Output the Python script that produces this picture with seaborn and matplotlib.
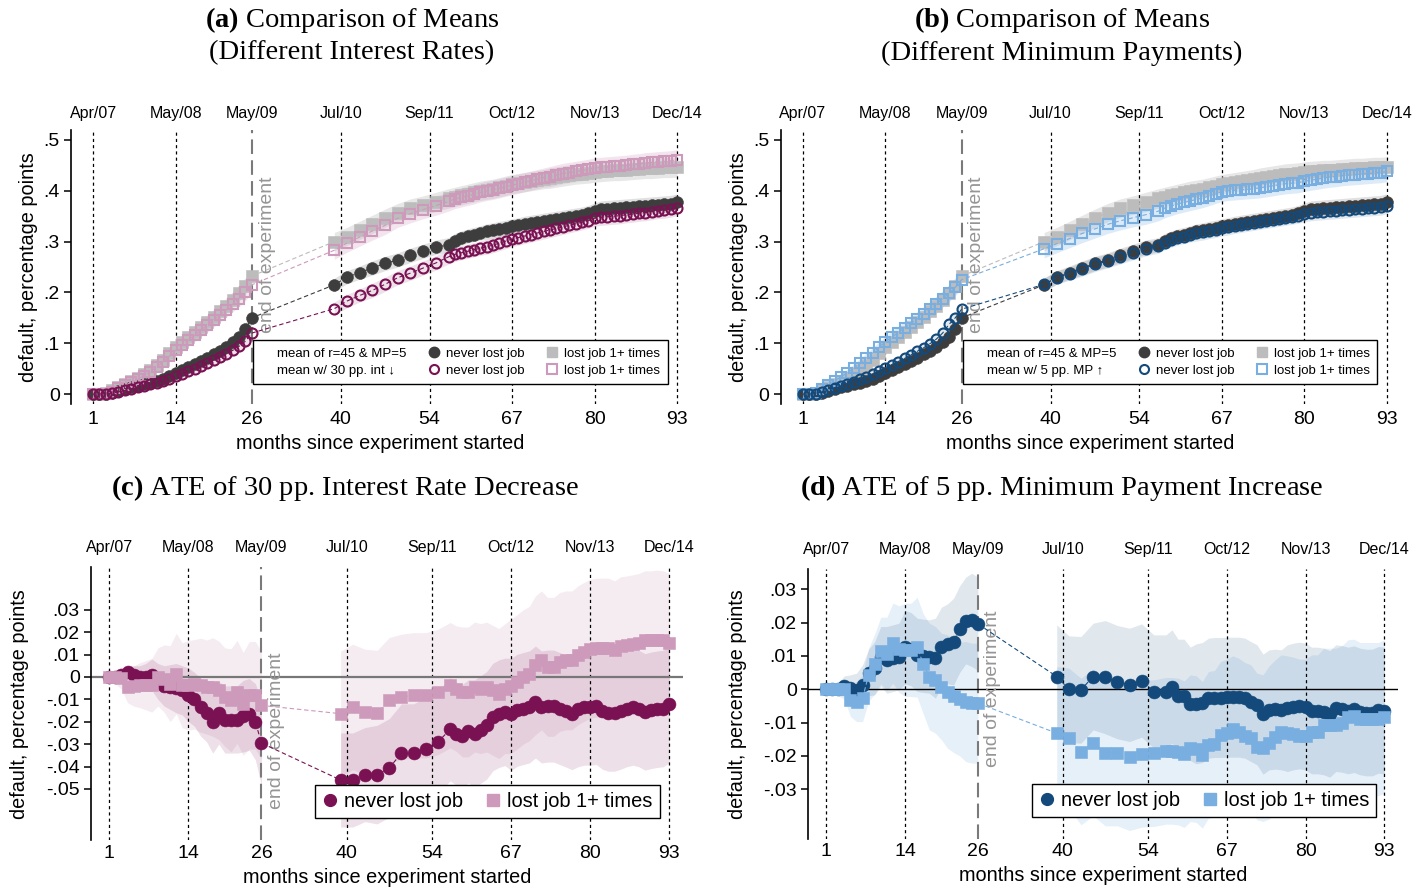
import seaborn as sns
import matplotlib.pyplot as plt
from matplotlib.lines import Line2D

sns.set_theme(style="white")
plt.rcParams['font.family'] = ['Liberation Sans', 'DejaVu Sans']
plt.rcParams['mathtext.fontset'] = 'custom'
plt.rcParams['mathtext.rm'] = 'Liberation Serif'
plt.rcParams['mathtext.bf'] = 'Liberation Serif:bold'

# ---------------- data ----------------
months = [1, 2, 3, 4, 5, 6, 7, 8, 9, 10, 11, 12, 13, 14, 15, 16, 17, 18, 19, 20, 21, 22, 23, 24, 25, 26,
          39, 41, 43, 45, 47, 49, 51, 53, 55,
          57, 58, 59, 60, 61, 62, 63, 64, 65, 66, 67, 68, 69, 70, 71, 72, 73, 74, 75, 76, 77,
          78, 79, 80, 81, 82, 83, 84, 85, 86, 87, 88, 89, 90, 91, 92, 93]
n_exp = 26  # points during the experiment, the rest come after the gap

tick_months = [1, 14, 26, 40, 54, 67, 80, 93]
date_labels = ['Apr/07', 'May/08', 'May/09', 'Jul/10', 'Sep/11', 'Oct/12', 'Nov/13', 'Dec/14']

# means, panels (a) and (b)
base_never = [.000, .000, .001, .003, .006, .009, .013, .016, .019, .022, .026, .030, .035, .041, .047, .053,
              .059, .065, .071, .078, .085, .093, .102, .112, .128, .150,
              .215, .230, .239, .248, .257, .264, .273, .281, .289,
              .294, .302, .307, .311, .314, .317, .320, .322, .325, .327, .330, .332, .335, .337, .339, .341,
              .343, .345, .347, .349, .351, .353, .356, .360, .364, .365, .366, .367, .368, .369, .370, .371,
              .372, .373, .374, .375, .378]
base_lost = [.000, .000, .002, .008, .014, .020, .026, .032, .040, .048, .058, .068, .080, .092, .102, .112,
             .122, .132, .142, .152, .163, .174, .186, .199, .213, .232,
             .300, .310, .322, .334, .346, .357, .366, .372, .378,
             .385, .388, .391, .394, .397, .400, .402, .404, .407, .410, .413, .415, .417, .419, .421, .423,
             .425, .427, .429, .431, .433, .434, .435, .437, .438, .439, .440, .440, .441, .442, .443, .444,
             .444, .445, .446, .446, .447]
int_never = [.000, .000, .001, .002, .004, .007, .010, .013, .016, .019, .022, .026, .030, .035, .040, .045,
             .050, .055, .061, .067, .073, .079, .086, .094, .104, .120,
             .168, .183, .194, .204, .216, .229, .238, .248, .258,
             .270, .275, .278, .281, .284, .287, .290, .293, .297, .301, .305, .308, .311, .314, .317, .320,
             .323, .326, .329, .332, .335, .338, .341, .346, .348, .349, .350, .351, .353, .354, .356, .357,
             .359, .361, .362, .364, .367]
int_lost = [.000, .000, .001, .005, .011, .017, .023, .029, .036, .044, .053, .063, .074, .086, .096, .106,
            .116, .126, .136, .146, .156, .166, .177, .188, .200, .215,
            .283, .297, .309, .321, .332, .346, .355, .363, .371,
            .379, .384, .387, .390, .393, .397, .400, .402, .405, .408, .411, .414, .417, .420, .423, .426,
            .428, .431, .434, .436, .438, .440, .442, .445, .446, .447, .448, .449, .450, .452, .453, .455,
            .456, .457, .458, .459, .461]
mp_never = [.000, .000, .001, .004, .008, .012, .016, .020, .024, .029, .034, .039, .046, .052, .058, .064,
            .070, .077, .084, .091, .099, .108, .120, .137, .150, .167,
            .216, .229, .237, .246, .255, .262, .270, .278, .286,
            .291, .298, .303, .307, .310, .313, .316, .318, .321, .323, .326, .328, .331, .333, .335, .337,
            .339, .341, .343, .345, .347, .349, .351, .355, .357, .358, .359, .360, .361, .362, .363, .364,
            .365, .366, .367, .368, .371]
mp_lost = [.000, .000, .003, .010, .018, .026, .034, .042, .051, .061, .071, .081, .092, .103, .112, .121,
           .130, .139, .148, .157, .167, .177, .188, .198, .210, .225,
           .286, .296, .306, .316, .325, .334, .341, .347, .353,
           .360, .366, .370, .374, .377, .380, .383, .386, .390, .394, .398, .400, .401, .402, .403, .404,
           .406, .408, .410, .412, .414, .415, .416, .419, .421, .423, .425, .427, .428, .430, .431, .432,
           .433, .434, .435, .436, .438]
# half widths of the confidence bands in (a) and (b)
never_hw = [.000, .000, .001, .002, .003, .003, .004, .004, .005, .005, .006, .006, .007, .007, .008, .008,
            .009, .009, .010, .010, .010, .011, .011, .012, .012, .013,
            .013, .013, .013, .014, .014, .014, .014, .014, .014,
            .014, .014, .014, .014, .014, .014, .015, .015, .015, .015, .015, .015, .015, .015, .015, .015,
            .015, .015, .015, .015, .015, .015, .015, .016, .016, .016, .016, .016, .016, .016, .016, .016,
            .016, .016, .016, .016, .016]
lost_hw = [.000, .000, .002, .003, .004, .005, .006, .007, .008, .009, .010, .010, .011, .011, .012, .012,
           .013, .013, .014, .014, .014, .015, .015, .016, .016, .017,
           .018, .018, .018, .018, .018, .018, .018, .018, .019,
           .019, .019, .019, .019, .019, .019, .019, .019, .019, .019, .019, .019, .019, .019, .019, .019,
           .020, .020, .020, .020, .020, .020, .020, .020, .020, .020, .020, .020, .020, .020, .020, .020,
           .020, .020, .020, .020, .020]

# treatment effects, panel (c)
ate_int_never = [.000, .000, .001, .002, .001, .000, .000, .001, -.002, -.004, -.0045, -.005, -.006, -.008,
                 -.010, -.0134, -.016, -.020, -.016, -.019, -.019, -.019, -.0175, -.0167, -.020, -.0295,
                 -.046, -.046, -.0436, -.0436, -.0406, -.034, -.034, -.032, -.029,
                 -.0234, -.0253, -.0263, -.0243, -.0253, -.0235, -.0216, -.0179, -.0164, -.0156, -.0167,
                 -.0149, -.0141, -.0134, -.0112, -.0134, -.013, -.013, -.0141, -.0152, -.0164, -.0141,
                 -.0134, -.0134, -.0131, -.0152, -.0161, -.0161, -.0152, -.0141, -.0134, -.0141, -.0156,
                 -.0149, -.0144, -.0141, -.0122]
ate_int_lost = [.000, .000, -.0005, -.0045, -.004, -.0037, -.0037, -.0037, .000, -.0007, -.003, .0015,
                -.0037, -.0037, -.0033, -.0037, -.0045, -.0045, -.006, -.009, -.0104, -.0067, -.012,
                -.0082, -.0082, -.0127,
                -.0164, -.0134, -.0156, -.0161, -.0104, -.0089, -.0082, -.0082, -.0067,
                -.0037, -.0052, -.0067, -.0067, -.0045, -.0052, -.0045, -.006, -.0074, -.0052, -.0042,
                -.0022, .000, .0015, .0052, .0074, .0045, .0045, .0067, .0074, .0074, .0097, .0112, .0126,
                .0131, .0131, .0131, .0119, .0137, .0141, .0146, .0152, .0164, .0164, .0167, .0164, .0152]
ate_int_never_hw = [.000, .001, .002, .003, .004, .005, .006, .007, .008, .009, .010, .011, .011, .012,
                    .012, .013, .013, .014, .014, .015, .015, .015, .016, .016, .017, .019,
                    .021, .021, .021, .022, .022, .022, .022, .023, .023,
                    .023, .023, .023, .023, .024, .024, .024, .024, .024, .024, .025, .025, .025, .025,
                    .025, .025, .025, .025, .025, .025, .025, .026, .026, .026, .026, .026, .026, .026,
                    .026, .026, .026, .026, .026, .026, .026, .026, .026]
ate_int_lost_hw = [.000, .003, .005, .007, .009, .010, .011, .012, .013, .015, .017, .018, .019, .020,
                   .020, .021, .021, .022, .022, .022, .023, .023, .023, .024, .024, .024,
                   .028, .028, .028, .028, .028, .028, .028, .028, .028,
                   .028, .028, .029, .029, .029, .029, .029, .029, .029, .029, .030, .030, .030, .030,
                   .031, .031, .031, .031, .031, .031, .031, .031, .031, .031, .031, .031, .031, .031,
                   .031, .031, .031, .031, .031, .031, .031, .031, .031]

# treatment effects, panel (d)
ate_mp_never = [.000, .000, .000, .001, .0003, -.0002, .0013, .005, .0063, .0098, .0088, .0093, .0098,
                .0126, .012, .0103, .010, .0098, .0093, .0126, .0136, .0143, .018, .0206, .0208, .0196,
                .0038, .000, -.0002, .0038, .0036, .0021, .0013, .0026, -.0007,
                -.0007, .0008, -.002, -.002, -.0044, -.0044, -.004, -.0027, -.0025, -.0025, -.0024,
                -.0024, -.0024, -.0027, -.0037, -.0047, -.0075, -.0062, -.006, -.0062, -.0057, -.0052,
                -.0049, -.0052, -.0064, -.0064, -.0067, -.0074, -.0057, -.0059, -.0064, -.006, -.0067,
                -.007, -.007, -.0062, -.0064]
ate_mp_lost = [.000, .000, .000, .000, -.0032, -.0037, -.0027, .0043, .0076, .0116, .0106, .0138, .012,
               .0118, .0118, .0126, .0076, .0038, .0028, .0008, -.0007, -.002, -.003, -.0037, -.0042, -.0042,
               -.0132, -.0147, -.0187, -.016, -.019, -.019, -.0204, -.0194, -.0192,
               -.0185, -.0185, -.0187, -.0195, -.0177, -.018, -.0197, -.0167, -.0164, -.0137, -.013,
               -.012, -.0127, -.014, -.0147, -.0172, -.0177, -.016, -.0142, -.0127, -.013, -.0134, -.014,
               -.014, -.0127, -.0127, -.0107, -.0107, -.0107, -.01, -.0082, -.008, -.009, -.009, -.009,
               -.009, -.0082]
ate_mp_never_hw = [.000, .001, .002, .003, .004, .005, .006, .007, .008, .009, .010, .010, .010, .011,
                   .011, .011, .011, .011, .012, .012, .012, .013, .013, .013, .014, .014,
                   .0155, .016, .016, .016, .017, .017, .017, .017, .017,
                   .017, .017, .017, .017, .017, .018, .018, .018, .018, .018, .018, .018, .018, .018,
                   .018, .018, .018, .018, .018, .018, .019, .019, .019, .019, .019, .019, .019, .019,
                   .019, .019, .019, .019, .019, .019, .019, .019, .019]
ate_mp_lost_hw = [.000, .001, .002, .003, .005, .006, .007, .008, .009, .010, .011, .012, .013, .014,
                  .014, .015, .015, .016, .016, .016, .017, .017, .017, .018, .018, .018,
                  .020, .021, .022, .022, .022, .022, .022, .022, .022,
                  .022, .022, .022, .022, .022, .022, .022, .022, .022, .022, .022, .022, .022, .022,
                  .022, .022, .022, .023, .023, .023, .023, .023, .023, .023, .023, .023, .023, .023,
                  .023, .023, .023, .023, .023, .023, .023, .023, .023]

# ---------------- colours ----------------
dark = '#3d3d3d'
gray = '#bcbcbc'
purple = '#7a1153'
pink = '#cd9abb'
navy = '#134a7b'
lblue = '#78aee0'

SERIF = 'Liberation Serif'

fig = plt.figure(figsize=(14.26, 8.88), dpi=100)
ax_a = fig.add_axes([0.0497, 0.5448, 0.4340, 0.3090])
ax_b = fig.add_axes([0.5475, 0.5448, 0.4340, 0.3090])
ax_c = fig.add_axes([0.0638, 0.0535, 0.4154, 0.3078])
ax_d = fig.add_axes([0.5666, 0.0550, 0.4140, 0.3040])


def frame(ax, xlim, ylim, yticks, ylabels, top_pad, ylab_x, bot_pad, xlab_y):
    ax.set_xlim(*xlim)
    ax.set_ylim(*ylim)
    for s in ['top', 'right', 'bottom']:
        ax.spines[s].set_visible(False)
    ax.spines['left'].set_color('black')
    ax.spines['left'].set_linewidth(1.2)
    ax.set_xticks(tick_months)
    ax.set_xticklabels([str(m) for m in tick_months])
    ax.set_yticks(yticks)
    ax.set_yticklabels(ylabels)
    ax.tick_params(axis='x', length=0, labelsize=14, pad=bot_pad, colors='black')
    ax.tick_params(axis='y', left=True, length=5, width=1.1, labelsize=14, pad=3, colors='black')
    top = ax.secondary_xaxis('top')
    top.set_xticks(tick_months)
    top.set_xticklabels(date_labels)
    top.tick_params(length=0, labelsize=11.5, pad=top_pad, colors='black')
    for sp in top.spines.values():
        sp.set_visible(False)
    for m in tick_months:
        if m == 26:
            ax.axvline(m, color='#7a7a7a', lw=1.5, ls=(0, (7, 3)), zorder=1.5)
        else:
            ax.axvline(m, color='black', lw=0.9, ls=(0, (2.5, 2.5)), zorder=1.5)
    ax.set_ylabel('default, percentage points', fontsize=14.3, color='black')
    ax.yaxis.set_label_coords(ylab_x, 0.5)
    ax.set_xlabel('months since experiment started', fontsize=14.3, color='black')
    ax.xaxis.set_label_coords(0.5, xlab_y)
    ax.grid(False)


def band(ax, y, hw, color, alpha):
    lo = [v - h for v, h in zip(y, hw)]
    hi = [v + h for v, h in zip(y, hw)]
    for sl in (slice(0, n_exp), slice(n_exp, None)):
        ax.fill_between(months[sl], lo[sl], hi[sl], color=color, alpha=alpha, lw=0, zorder=1)


def series(ax, y, color, marker, filled, ms, z):
    sns.lineplot(x=months, y=y, ax=ax, color=color, sort=False, errorbar=None,
                 linestyle=(0, (4, 2.5)), linewidth=0.8, marker=marker, markersize=ms,
                 markerfacecolor=color if filled else 'none', markeredgecolor=color,
                 markeredgewidth=0.4 if filled else 1.5, zorder=z)


def end_text(ax, x, y):
    ax.text(x, y, 'end of experiment', rotation=90, color='#959595', fontsize=14,
            ha='center', va='center', zorder=2.5)


# ---- panel (a) and (b): means ----
for ax, t_never, t_lost, c_never, c_lost, first_lab in [
        (ax_a, int_never, int_lost, purple, pink, 'mean w/ 30 pp. int \u2193'),
        (ax_b, mp_never, mp_lost, navy, lblue, 'mean w/ 5 pp. MP \u2191')]:
    band(ax, base_lost, lost_hw, gray, 0.35)
    band(ax, base_never, never_hw, gray, 0.45)
    band(ax, t_lost, lost_hw, c_lost, 0.25)
    band(ax, t_never, never_hw, c_never, 0.12)
    series(ax, base_lost, gray, 's', True, 8.5, 3)
    series(ax, base_never, dark, 'o', True, 8.5, 3)
    series(ax, t_lost, c_lost, 's', False, 7.2, 4)
    series(ax, t_never, c_never, 'o', False, 7.2, 4)
    frame(ax, (-2.5, 95), (-0.02, 0.52), [0, .1, .2, .3, .4, .5],
          ['0', '.1', '.2', '.3', '.4', '.5'], 6.5, -0.053, 5, -0.11)
    end_text(ax, 28.4, 0.275)
    blank = Line2D([], [], ls='none')
    handles = [blank, blank,
               Line2D([], [], ls='none', marker='o', ms=7.5, mfc=dark, mec=dark),
               Line2D([], [], ls='none', marker='o', ms=6.5, mfc='none', mec=c_never, mew=1.5),
               Line2D([], [], ls='none', marker='s', ms=7.5, mfc=gray, mec=gray),
               Line2D([], [], ls='none', marker='s', ms=6.5, mfc='none', mec=c_lost, mew=1.5)]
    labels = ['mean of r=45 & MP=5', first_lab, 'never lost job', 'never lost job',
              'lost job 1+ times', 'lost job 1+ times']
    leg = ax.legend(handles, labels, ncol=3, loc='upper left', bbox_to_anchor=(0.294, 0.234),
                    fontsize=9.5, frameon=True, fancybox=False, edgecolor='black', framealpha=1,
                    handlelength=0.8, handletextpad=0.5, columnspacing=1.7, labelspacing=0.4,
                    borderpad=0.55, borderaxespad=0)
    leg.get_frame().set_linewidth(1.0)
    leg.set_zorder(6)
    for txt in leg.get_texts():
        txt.set_color('black')

# ---- panel (c) and (d): treatment effects ----
for ax, y_never, y_lost, hw_never, hw_lost, c_never, c_lost, ylim, yt, ylab, zc, zw, lx, ey in [
        (ax_c, ate_int_never, ate_int_lost, ate_int_never_hw, ate_int_lost_hw, purple, pink,
         (-0.073, 0.049), [-.05, -.04, -.03, -.02, -.01, 0, .01, .02, .03],
         ['-.05', '-.04', '-.03', '-.02', '-.01', '0', '.01', '.02', '.03'], '#777777', 1.6,
         -0.105, -0.024),
        (ax_d, ate_mp_never, ate_mp_lost, ate_mp_never_hw, ate_mp_lost_hw, navy, lblue,
         (-0.045, 0.036), [-.03, -.02, -.01, 0, .01, .02, .03],
         ['-.03', '-.02', '-.01', '0', '.01', '.02', '.03'], 'black', 1.0,
         -0.103, 0.0)]:
    band(ax, y_lost, hw_lost, c_lost, 0.18)
    band(ax, y_never, hw_never, c_never, 0.13)
    ax.axhline(0, color=zc, lw=zw, zorder=2)
    series(ax, y_never, c_never, 'o', True, 9.3, 3)
    series(ax, y_lost, c_lost, 's', True, 9.0, 3)
    frame(ax, (-2, 95.3), ylim, yt, ylab, 9, lx, 3, -0.1)
    end_text(ax, 28.4, ey)
    handles = [Line2D([], [], ls='none', marker='o', ms=8.5, mfc=c_never, mec=c_never),
               Line2D([], [], ls='none', marker='s', ms=8.5, mfc=c_lost, mec=c_lost)]
    leg = ax.legend(handles, ['never lost job', 'lost job 1+ times'], ncol=2, loc='upper left',
                    bbox_to_anchor=(0.379, 0.203), fontsize=14.4, frameon=True, fancybox=False,
                    edgecolor='black', framealpha=1, handlelength=0.8, handletextpad=0.3,
                    columnspacing=1.1, borderpad=0.35, borderaxespad=0)
    leg.get_frame().set_linewidth(1.0)
    leg.set_zorder(6)
    for txt in leg.get_texts():
        txt.set_color('black')

# ---- titles ----
W, H = 1426.0, 888.0
title_kw = dict(ha='center', va='center', family=SERIF, fontsize=20.5, color='black')
fig.text(352 / W, 1 - 20 / H, r'$\mathbf{(a)}$ Comparison of Means', **title_kw)
fig.text(352 / W, 1 - 53 / H, '(Different Interest Rates)', **title_kw)
fig.text(1062 / W, 1 - 20 / H, r'$\mathbf{(b)}$ Comparison of Means', **title_kw)
fig.text(1062 / W, 1 - 53 / H, '(Different Minimum Payments)', **title_kw)
fig.text(345 / W, 1 - 488 / H, r'$\mathbf{(c)}$ ATE of 30 pp. Interest Rate Decrease', **title_kw)
fig.text(1062 / W, 1 - 488 / H, r'$\mathbf{(d)}$ ATE of 5 pp. Minimum Payment Increase', **title_kw)

fig.savefig('out.png', dpi=100)
